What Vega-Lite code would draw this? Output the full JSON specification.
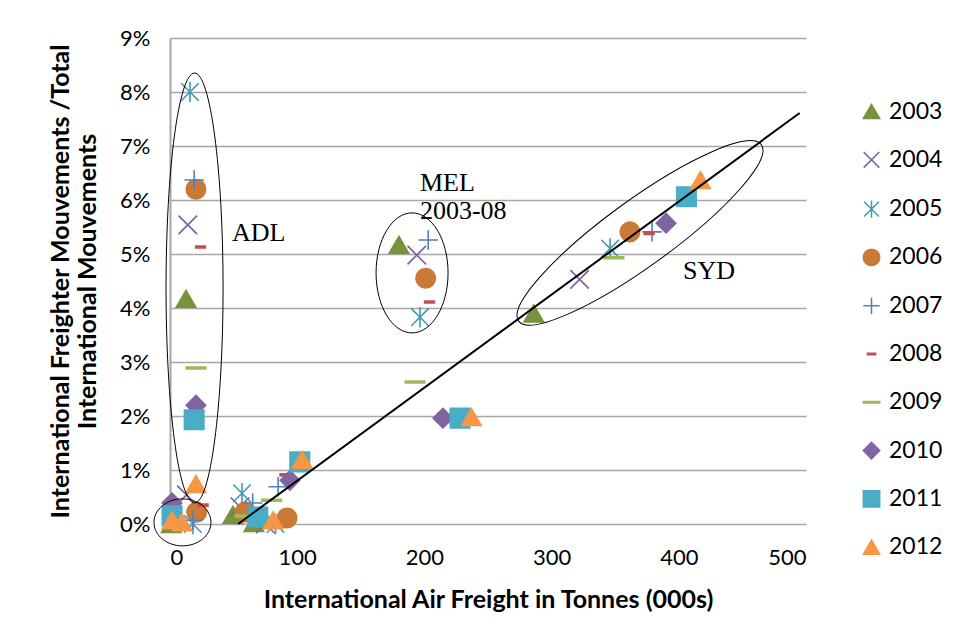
{
  "$schema": "https://vega.github.io/schema/vega-lite/v6.json",
  "width": 636,
  "height": 486,
  "autosize": "none",
  "padding": {"left": 170, "top": 38, "right": 152, "bottom": 116},
  "background": "white",
  "config": {"view": {"stroke": null}, "font": "Lato"},
  "datasets": {
    "points": [
      {"year": "2003", "x": 12.6, "y": 0.0417},
      {"year": "2003", "x": 180, "y": 0.0517},
      {"year": "2003", "x": 286, "y": 0.039},
      {"year": "2003", "x": 49.5, "y": 0.0017},
      {"year": "2003", "x": 66, "y": 0.0002},
      {"year": "2003", "x": 1, "y": 0.0},
      {"year": "2004", "x": 14, "y": 0.0554},
      {"year": "2004", "x": 194, "y": 0.0498},
      {"year": "2004", "x": 322, "y": 0.0453},
      {"year": "2004", "x": 55, "y": 0.0032},
      {"year": "2004", "x": 75, "y": 0.0},
      {"year": "2004", "x": 13, "y": 0.0054},
      {"year": "2005", "x": 15.7, "y": 0.08},
      {"year": "2005", "x": 196.5, "y": 0.0383},
      {"year": "2005", "x": 346, "y": 0.051},
      {"year": "2005", "x": 56.6, "y": 0.0057},
      {"year": "2005", "x": 83, "y": 0.0},
      {"year": "2005", "x": 18, "y": 0.0},
      {"year": "2006", "x": 20.4, "y": 0.062},
      {"year": "2006", "x": 201, "y": 0.0455},
      {"year": "2006", "x": 361.6, "y": 0.0541},
      {"year": "2006", "x": 59, "y": 0.0022},
      {"year": "2006", "x": 92, "y": 0.0011},
      {"year": "2006", "x": 21, "y": 0.0022},
      {"year": "2007", "x": 19, "y": 0.0637},
      {"year": "2007", "x": 203, "y": 0.0526},
      {"year": "2007", "x": 379, "y": 0.0541},
      {"year": "2007", "x": 85, "y": 0.0069},
      {"year": "2007", "x": 65, "y": 0.0039},
      {"year": "2007", "x": 18, "y": 0.0007},
      {"year": "2008", "x": 24, "y": 0.0513},
      {"year": "2008", "x": 204, "y": 0.0411},
      {"year": "2008", "x": 376.6, "y": 0.0538},
      {"year": "2008", "x": 90.4, "y": 0.0091},
      {"year": "2008", "x": 26, "y": 0.0035},
      {"year": "2009", "x": 20.4, "y": 0.0289},
      {"year": "2009", "x": 192.6, "y": 0.0263},
      {"year": "2009", "x": 349, "y": 0.0493},
      {"year": "2009", "x": 80, "y": 0.0044},
      {"year": "2009", "x": 59, "y": 0.0015},
      {"year": "2010", "x": 20.4, "y": 0.022},
      {"year": "2010", "x": 214.6, "y": 0.0196},
      {"year": "2010", "x": 390, "y": 0.0557},
      {"year": "2010", "x": 94.3, "y": 0.0081},
      {"year": "2010", "x": 1.6, "y": 0.0039},
      {"year": "2011", "x": 19, "y": 0.0193},
      {"year": "2011", "x": 228, "y": 0.0196},
      {"year": "2011", "x": 406, "y": 0.0606},
      {"year": "2011", "x": 102, "y": 0.0115},
      {"year": "2011", "x": 69, "y": 0.0013},
      {"year": "2011", "x": 1.6, "y": 0.0015},
      {"year": "2012", "x": 20.4, "y": 0.0074},
      {"year": "2012", "x": 237, "y": 0.0198},
      {"year": "2012", "x": 417, "y": 0.0637},
      {"year": "2012", "x": 104, "y": 0.0119},
      {"year": "2012", "x": 81, "y": 0.0007},
      {"year": "2012", "x": 1.6, "y": 0.0007},
      {"year": "2012", "x": 9.5, "y": 0.0003}
    ]
  },
  "layer": [
    {
      "data": {"name": "points"},
      "mark": {"type": "point", "filled": true, "opacity": 1, "size": 380, "strokeWidth": 1.6},
      "encoding": {
        "x": {
          "field": "x", "type": "quantitative",
          "scale": {"domain": [0, 500], "nice": false, "zero": false},
          "axis": {
            "values": [0, 100, 200, 300, 400, 500], "grid": false, "domain": false, "ticks": false,
            "labelFontSize": 22, "labelColor": "black", "labelPadding": 23, "labelFont": "Lato",
            "title": "International Air Freight in Tonnes (000s)", "titleFontSize": 25, "titleFontWeight": "bold",
            "titleColor": "black", "titlePadding": 19, "titleFont": "Lato"
          }
        },
        "y": {
          "field": "y", "type": "quantitative",
          "scale": {"domain": [0, 0.09], "nice": false},
          "axis": {
            "values": [0, 0.01, 0.02, 0.03, 0.04, 0.05, 0.06, 0.07, 0.08, 0.09], "format": ".0%",
            "grid": true, "gridColor": "#A6A6A6", "gridWidth": 1.5,
            "domain": true, "domainColor": "#A6A6A6", "domainWidth": 2, "ticks": false,
            "labelFontSize": 22, "labelColor": "black", "labelPadding": 20, "labelFont": "Lato",
            "title": ["International Freighter Mouvements /Total", "International Mouvements"],
            "titleFontSize": 25, "titleFontWeight": "bold", "titleColor": "black", "titlePadding": 19,
            "titleFont": "Lato", "titleLineHeight": 27
          }
        },
        "shape": {
          "field": "year", "type": "nominal",
          "scale": {
            "domain": ["2003", "2004", "2005", "2006", "2007", "2008", "2009", "2010", "2011", "2012"],
            "range": [
              "triangle-up",
              "M-0.95,-0.95L0.95,0.95M-0.95,0.95L0.95,-0.95",
              "M-0.9,-0.9L0.9,0.9M-0.9,0.9L0.9,-0.9M0,-1.05L0,1.05",
              "circle",
              "M-1,0L1,0M0,-1L0,1",
              "M-0.5,-0.1L0.5,-0.1L0.5,0.1L-0.5,0.1Z",
              "M-1,-0.1L1,-0.1L1,0.1L-1,0.1Z",
              "diamond",
              "square",
              "triangle-up"
            ]
          },
          "legend": {
            "orient": "none", "legendX": 690, "legendY": 62, "title": null,
            "labelFontSize": 23, "labelFont": "Lato", "labelColor": "black",
            "symbolSize": 270, "symbolStrokeWidth": 1.5, "rowPadding": 24.3, "labelOffset": 6, "symbolOpacity": 1
          }
        },
        "fill": {
          "field": "year", "type": "nominal",
          "scale": {
            "domain": ["2003", "2004", "2005", "2006", "2007", "2008", "2009", "2010", "2011", "2012"],
            "range": ["#77933C", "#7D5FA0", "#3F9AB0", "#C97A36", "#4F81BD", "#C0504D", "#9BBB59", "#8064A2", "#4BACC6", "#F79646"]
          },
          "legend": {
            "orient": "none", "legendX": 690, "legendY": 62, "title": null,
            "labelFontSize": 23, "labelFont": "Lato", "labelColor": "black",
            "symbolSize": 270, "symbolStrokeWidth": 1.5, "rowPadding": 24.3, "labelOffset": 6, "symbolOpacity": 1
          }
        },
        "stroke": {
          "field": "year", "type": "nominal",
          "scale": {
            "domain": ["2003", "2004", "2005", "2006", "2007", "2008", "2009", "2010", "2011", "2012"],
            "range": ["#77933C", "#7D5FA0", "#3F9AB0", "#C97A36", "#4F81BD", "#C0504D", "#9BBB59", "#8064A2", "#4BACC6", "#F79646"]
          },
          "legend": {
            "orient": "none", "legendX": 690, "legendY": 62, "title": null,
            "labelFontSize": 23, "labelFont": "Lato", "labelColor": "black",
            "symbolSize": 270, "symbolStrokeWidth": 1.5, "rowPadding": 24.3, "labelOffset": 6, "symbolOpacity": 1
          }
        }
      }
    },
    {
      "data": {"values": [{"x": 53.5, "y": 0}, {"x": 495, "y": 0.0761}]},
      "mark": {"type": "line", "color": "black", "strokeWidth": 2},
      "encoding": {
        "x": {"field": "x", "type": "quantitative"},
        "y": {"field": "y", "type": "quantitative"}
      }
    },
    {
      "data": {"values": [{"x": 19.3, "y": 0.0437}]},
      "mark": {
        "type": "point", "filled": false, "opacity": 1, "stroke": "black", "strokeWidth": 1, "size": 184900,
        "shape": "M0.1326,0C0.1326,0.5523 0.0732,1 0,1C-0.0732,1 -0.1326,0.5523 -0.1326,0C-0.1326,-0.5523 -0.0732,-1 0,-1C0.0732,-1 0.1326,-0.5523 0.1326,0Z"
      },
      "encoding": {
        "x": {"field": "x", "type": "quantitative"},
        "y": {"field": "y", "type": "quantitative"}
      }
    },
    {
      "data": {"values": [{"x": 9.8, "y": 0.0003}]},
      "mark": {
        "type": "point", "filled": false, "opacity": 1, "stroke": "black", "strokeWidth": 1, "size": 3249,
        "shape": "M1,0C1,0.4554 0.5523,0.8246 0,0.8246C-0.5523,0.8246 -1,0.4554 -1,0C-1,-0.4554 -0.5523,-0.8246 0,-0.8246C0.5523,-0.8246 1,-0.4554 1,0Z"
      },
      "encoding": {
        "x": {"field": "x", "type": "quantitative"},
        "y": {"field": "y", "type": "quantitative"}
      }
    },
    {
      "data": {"values": [{"x": 190.3, "y": 0.0465}]},
      "mark": {
        "type": "point", "filled": false, "opacity": 1, "stroke": "black", "strokeWidth": 1, "size": 14400,
        "shape": "M0.6,0C0.6,0.5523 0.3314,1 0,1C-0.3314,1 -0.6,0.5523 -0.6,0C-0.6,-0.5523 -0.3314,-1 0,-1C0.3314,-1 0.6,-0.5523 0.6,0Z"
      },
      "encoding": {
        "x": {"field": "x", "type": "quantitative"},
        "y": {"field": "y", "type": "quantitative"}
      }
    },
    {
      "data": {"values": [{"x": 369.5, "y": 0.0539}]},
      "mark": {
        "type": "point", "filled": false, "opacity": 1, "stroke": "black", "strokeWidth": 1, "size": 90000, "angle": 324,
        "shape": "M1,0C1,0.1215 0.5523,0.22 0,0.22C-0.5523,0.22 -1,0.1215 -1,0C-1,-0.1215 -0.5523,-0.22 0,-0.22C0.5523,-0.22 1,-0.1215 1,0Z"
      },
      "encoding": {
        "x": {"field": "x", "type": "quantitative"},
        "y": {"field": "y", "type": "quantitative"}
      }
    },
    {
      "data": {"values": [
        {"label": "ADL", "x": 48.7, "y": 0.0539},
        {"label": "MEL", "x": 196.5, "y": 0.0631},
        {"label": "2003-08", "x": 196.5, "y": 0.058},
        {"label": "SYD", "x": 403.3, "y": 0.0469}
      ]},
      "mark": {"type": "text", "font": "Liberation Serif", "fontSize": 26, "align": "left", "baseline": "middle", "color": "black"},
      "encoding": {
        "x": {"field": "x", "type": "quantitative"},
        "y": {"field": "y", "type": "quantitative"},
        "text": {"field": "label", "type": "nominal"}
      }
    }
  ]
}
